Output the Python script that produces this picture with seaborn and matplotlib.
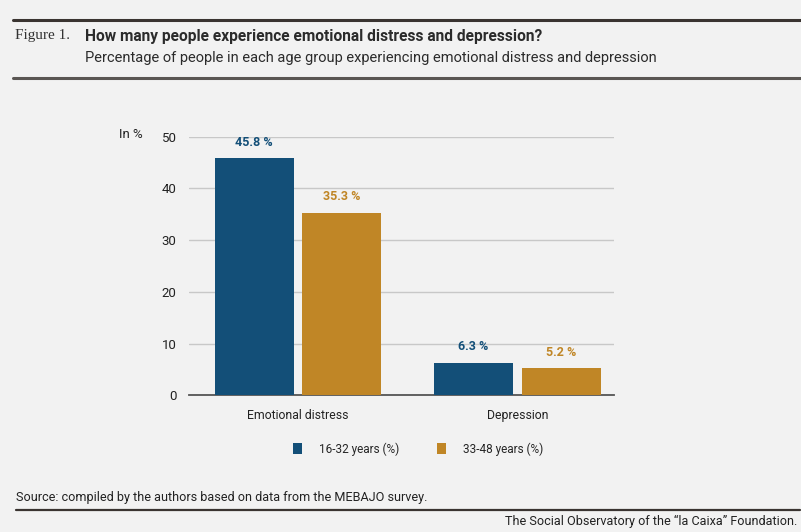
import matplotlib
matplotlib.use("Agg")
import matplotlib.pyplot as plt
import seaborn as sns
import pandas as pd
from matplotlib.patches import Patch
from matplotlib.lines import Line2D

categories = ["Emotional distress", "Depression"]
groups = ["16-32 years (%)", "33-48 years (%)"]
values_young = [45.8, 6.3]
values_old = [35.3, 5.2]
yticks = [0, 10, 20, 30, 40, 50]

title = "How many people experience emotional distress and depression?"
subtitle = "Percentage of people in each age group experiencing emotional distress and depression"
source = "Source: compiled by the authors based on data from the MEBAJO survey."
footer = "The Social Observatory of the \u201cla Caixa\u201d Foundation."

colors = ["#134f78", "#c08626"]
bg = "#f2f2f2"

df = pd.DataFrame({
    "category": categories * 2,
    "group": [groups[0]] * 2 + [groups[1]] * 2,
    "value": values_young + values_old,
})

sns.set_theme(style="white")
plt.rcParams["font.family"] = ["Roboto", "DejaVu Sans"]

W, H = 801, 532
fig = plt.figure(figsize=(W / 100, H / 100), dpi=100, facecolor=bg)
ax = fig.add_axes([189 / W, 1 - 395.3 / H, (614 - 189) / W, (395.3 - 136.7) / H])
ax.set_facecolor(bg)

sns.barplot(data=df, x="category", y="value", hue="group", order=categories,
            hue_order=groups, palette=colors, saturation=1, width=0.8, gap=0.1,
            linewidth=0, legend=False, ax=ax, zorder=3)

for cont, col in zip(ax.containers, colors):
    ax.bar_label(cont, labels=[f"{v:.1f} %" for v in cont.datavalues], padding=7,
                 color=col, fontsize=9, fontweight="bold")

ax.set_ylim(0, 50)
ax.set_xlim(-0.497, 1.44)
ax.set_yticks(yticks)
ax.set_yticklabels([str(t) for t in yticks])
ax.yaxis.grid(True, color="#c8c8c8", linewidth=1, zorder=0)
ax.set_axisbelow(True)
for s in ["top", "right", "left"]:
    ax.spines[s].set_visible(False)
ax.spines["bottom"].set_color("#555555")
ax.spines["bottom"].set_linewidth(1.3)
ax.tick_params(axis="y", length=0, pad=9, labelsize=9.5, labelcolor="#222222")
ax.tick_params(axis="x", length=0, pad=10, labelsize=8.8, labelcolor="#222222")
ax.set_xlabel("")
ax.set_ylabel("")

fig.text(131 / W, 1 - 135 / H, "In %", ha="center", va="center", fontsize=9.5, color="#222222")

# Header
fig.add_artist(Line2D([13 / W, 1], [1 - 20 / H] * 2, color="#3a3431", linewidth=2.2))
fig.add_artist(Line2D([13 / W, 1], [1 - 78 / H] * 2, color="#5a5653", linewidth=2.2))
fig.text(15 / W, 1 - 36 / H, "Figure 1.", ha="left", va="center", fontsize=11,
         family=["Liberation Serif", "DejaVu Serif"], color="#333333")
fig.text(85 / W, 1 - 36 / H, title, ha="left", va="center", fontsize=11.2,
         fontweight="bold", color="#2b2b2b")
fig.text(85 / W, 1 - 58 / H, subtitle, ha="left", va="center", fontsize=10.5,
         color="#2b2b2b")

# Legend
handles = [Patch(facecolor=c, edgecolor="none") for c in colors]
fig.legend(handles, groups, loc="center", bbox_to_anchor=(418 / W, 1 - 449 / H),
           ncol=2, frameon=False, fontsize=8.5, handlelength=0.8, handleheight=1.1,
           handletextpad=1.4, columnspacing=3.2)

# Footer
fig.text(16 / W, 1 - 497 / H, source, ha="left", va="center", fontsize=9.1, color="#222222")
fig.add_artist(Line2D([16 / W, 800 / W], [1 - 510 / H] * 2, color="#3a3431", linewidth=1.6))
fig.text(797 / W, 1 - 521 / H, footer, ha="right", va="center", fontsize=9.1, color="#222222")

fig.savefig("out.png", dpi=100, facecolor=bg)
